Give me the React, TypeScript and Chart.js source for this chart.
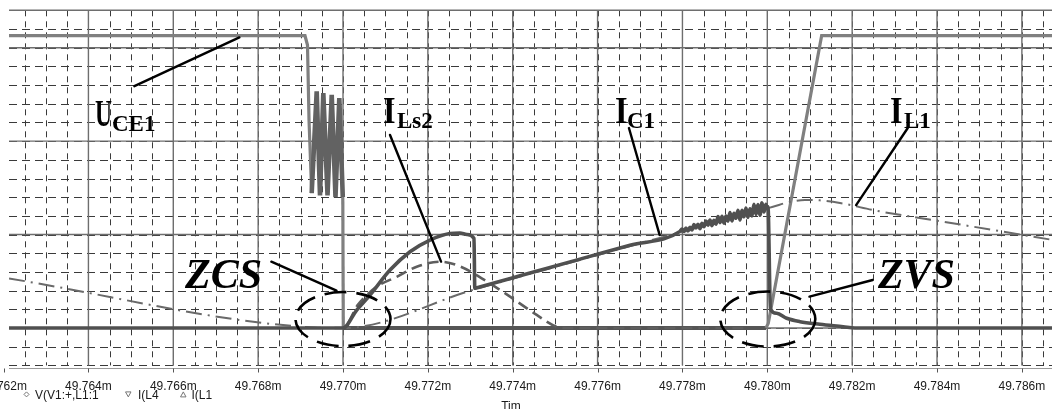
import React, { useEffect, useRef } from "react";
import { Chart, registerables } from "chart.js";

Chart.register(...registerables);

// ---- axis ranges (time in ms, values in grid divisions) ----
const T_MIN = 49.762128;
const T_MAX = 49.78671;
const V_MIN = -2;
const V_MAX = 17;

const xTickValues = [49.762, 49.764, 49.766, 49.768, 49.77, 49.772, 49.774, 49.776, 49.778, 49.78, 49.782, 49.784, 49.786];
const xTickLabels = ["49.762m", "49.764m", "49.766m", "49.768m", "49.770m", "49.772m", "49.774m", "49.776m", "49.778m", "49.780m", "49.782m", "49.784m", "49.786m"];
const yMajorValues = [0, 5, 10, 15];
const legendLabels = ["V(V1:+,L1:1", "I(L4", "I(L1"];
const axisTitle = "Tim";

// ---- U_CE1 (collector-emitter voltage) ----
const uce1T = [49.762, 49.769104, 49.769163, 49.769199, 49.769262, 49.76938, 49.769458, 49.769536, 49.769635, 49.769734, 49.769823, 49.769913, 49.769995, 49.770007, 49.779969, 49.780023, 49.781281, 49.7868];
const uce1V = [15.64, 15.64, 15.14, 11.13, 7.22, 12.66, 7.1, 12.57, 7.1, 12.48, 7.0, 12.3, 7.0, 0, 0, 0.25, 15.64, 15.64];

// ---- I_C1 (collector current) ----
const ic1T = [
  49.762, 49.77, 49.770323, 49.770636, 49.771108, 49.771579, 49.77205, 49.772522, 49.772757, 49.772922, 49.773087, 49.773106,
  49.773158, 49.774171, 49.775585, 49.776764,
  49.777942, 49.777989, 49.778036, 49.778083, 49.778131, 49.778178, 49.778225, 49.778272, 49.778319, 49.778366, 49.778413,
  49.778461, 49.778508, 49.778555, 49.778602, 49.778649, 49.778696, 49.778743, 49.77879, 49.778838, 49.778885, 49.778932,
  49.778979, 49.779026, 49.779073, 49.77912, 49.779167, 49.779215, 49.779262, 49.779309, 49.779356, 49.779403, 49.77945,
  49.779497, 49.779544, 49.779592, 49.779639, 49.779686, 49.779733, 49.77978, 49.779827, 49.779874, 49.779921, 49.779969,
  49.779992, 49.780016, 49.780075, 49.780221, 49.780456, 49.78077, 49.781241, 49.78179, 49.782066, 49.7868,
];
const ic1V = [
  0, 0, 0.963, 1.766, 3.103, 4.082, 4.708, 5.056, 5.083, 5.003, 4.799, 2.124,
  2.157, 2.796, 3.686, 4.43,
  5.17, 5.29, 5.17, 5.35, 5.19, 5.39, 5.25, 5.53, 5.35, 5.55, 5.32,
  5.6, 5.42, 5.73, 5.5, 5.78, 5.48, 5.77, 5.55, 5.96, 5.64, 5.98,
  5.61, 5.99, 5.72, 6.18, 5.73, 6.14, 5.87, 6.3, 5.78, 6.3, 5.95,
  6.42, 5.92, 6.38, 6.0, 6.62, 6.08, 6.6, 6.04, 6.7, 6.21, 6.62,
  6.47, 6.5, 1.0, 0.79, 0.52, 0.34, 0.2, 0.07, 0, 0,
];

// ---- I_Ls2 (resonant inductor current) ----
const ils2T = [49.7698, 49.77, 49.770354, 49.770794, 49.771266, 49.771737, 49.772286, 49.772757, 49.773269, 49.773858, 49.774565, 49.775036, 49.775337, 49.7795];
const ils2V = [0, 0, 1.25, 2.21, 2.74, 3.28, 3.55, 3.3, 2.66, 1.8, 0.7, 0.07, 0, 0];

// ---- I_L1 (main inductor current) ----
const il1T = [49.762129, 49.76934, 49.77, 49.773106, 49.779992, 49.780134, 49.780534, 49.780888, 49.781241, 49.781713, 49.782561, 49.78414, 49.786709];
const il1V = [2.648, 0.027, 0, 2.07, 6.4, 6.49, 6.75, 6.85, 6.83, 6.69, 6.28, 5.69, 4.72];

const zip = (ts: number[], vs: number[]) => ts.map((t, i) => ({ x: t, y: vs[i] }));

const SERIF = '"Liberation Serif", "DejaVu Serif", serif';
const SANS = '"Liberation Sans", Arial, sans-serif';

const scopePlugin = {
  id: "scopeDecor",
  beforeDraw(chart: any) {
    const { ctx, width, height } = chart;
    ctx.save();
    ctx.fillStyle = "#ffffff";
    ctx.fillRect(0, 0, width, height);
    ctx.restore();
  },
  beforeDatasetsDraw(chart: any) {
    const { ctx, chartArea: a, scales } = chart;
    const xs = scales.x;
    const ys = scales.y;
    ctx.save();
    ctx.beginPath();
    ctx.rect(a.left, a.top - 2, a.right - a.left, a.bottom - a.top + 4);
    ctx.clip();
    // minor vertical dashed
    ctx.strokeStyle = "#3a3a3a";
    ctx.lineWidth = 1;
    ctx.setLineDash([6, 5]);
    for (let k = 0; k < 60; k++) {
      const t = 49.7615 + k * 0.0005;
      if (t < T_MIN || t > T_MAX) continue;
      const px = Math.round(xs.getPixelForValue(t)) + 0.5;
      ctx.beginPath();
      ctx.moveTo(px, a.top);
      ctx.lineTo(px, a.bottom);
      ctx.stroke();
    }
    // minor horizontal dashed
    ctx.setLineDash([8, 5]);
    for (let v = V_MIN; v < V_MAX; v++) {
      const py = Math.round(ys.getPixelForValue(v)) + 0.5;
      ctx.beginPath();
      ctx.moveTo(a.left, py);
      ctx.lineTo(a.right, py);
      ctx.stroke();
    }
    // major solid
    ctx.setLineDash([]);
    ctx.strokeStyle = "#6e6e6e";
    ctx.lineWidth = 1.4;
    xTickValues.forEach((t) => {
      const px = xs.getPixelForValue(t);
      ctx.beginPath();
      ctx.moveTo(px, a.top);
      ctx.lineTo(px, a.bottom);
      ctx.stroke();
    });
    [...yMajorValues, V_MAX].forEach((v) => {
      const py = ys.getPixelForValue(v);
      ctx.beginPath();
      ctx.moveTo(a.left, py);
      ctx.lineTo(a.right, py);
      ctx.stroke();
    });
    ctx.restore();
  },
  afterDatasetsDraw(chart: any) {
    const { ctx, scales } = chart;
    const X = (t: number) => scales.x.getPixelForValue(t);
    const Y = (v: number) => scales.y.getPixelForValue(v);
    ctx.save();
    ctx.fillStyle = "#000";
    ctx.strokeStyle = "#000";
    ctx.lineCap = "round";

    const line = (t1: number, v1: number, t2: number, v2: number) => {
      ctx.setLineDash([]);
      ctx.lineWidth = 2.4;
      ctx.beginPath();
      ctx.moveTo(X(t1), Y(v1));
      ctx.lineTo(X(t2), Y(v2));
      ctx.stroke();
    };
    const label = (main: string, sub: string, t: number, v: number, subDx: number, sx: number) => {
      const px = X(t);
      const py = Y(v);
      ctx.save();
      ctx.translate(px, py);
      ctx.scale(sx, 1);
      ctx.font = `bold 38px ${SERIF}`;
      ctx.textBaseline = "alphabetic";
      ctx.fillText(main, 0, 0);
      ctx.restore();
      ctx.font = `bold 23px ${SERIF}`;
      ctx.fillText(sub, px + subDx, py + 5);
    };
    // labels
    label("U", "CE1", 49.764155, 10.8, 17, 0.62);
    line(49.765083, 12.94, 49.767558, 15.55);
    label("I", "Ls2", 49.770943, 10.97, 14, 0.85);
    line(49.771108, 10.33, 49.772311, 3.55);
    label("I", "C1", 49.77641, 10.97, 12, 0.85);
    line(49.776739, 10.7, 49.777462, 4.98);
    label("I", "L1", 49.782891, 10.97, 14, 0.85);
    line(49.783311, 10.7, 49.782093, 6.58);

    ctx.font = `italic bold 42px ${SERIF}`;
    ctx.fillText("ZCS", X(49.766276), Y(2.14));
    line(49.768311, 3.55, 49.769847, 2.0);
    ctx.fillText("ZVS", X(49.782608), Y(2.14));
    line(49.782483, 2.57, 49.780994, 1.68);

    // dashed ellipses
    ctx.lineWidth = 2.6;
    ctx.lineCap = "butt";
    ctx.setLineDash([22, 10]);
    const ell = (t: number, v: number, rx: number, ry: number) => {
      ctx.beginPath();
      ctx.ellipse(X(t), Y(v), rx, ry, 0, 0, Math.PI * 2);
      ctx.stroke();
    };
    ell(49.77, 0.48, 47.5, 27);
    ell(49.780012, 0.48, 47.5, 27.5);
    ctx.restore();
  },
  afterDraw(chart: any) {
    const { ctx, chartArea: a, scales } = chart;
    const X = (t: number) => scales.x.getPixelForValue(t);
    ctx.save();
    // bottom axis line with ticks
    ctx.strokeStyle = "#9a9a9a";
    ctx.lineWidth = 1;
    const by = Math.round(a.bottom) + 3.5;
    ctx.beginPath();
    ctx.moveTo(a.left, by);
    ctx.lineTo(a.right, by);
    ctx.stroke();
    ctx.strokeStyle = "#555";
    xTickValues.forEach((t) => {
      const px = Math.round(X(t)) + 0.5;
      ctx.beginPath();
      ctx.moveTo(px, by);
      ctx.lineTo(px, by + 4);
      ctx.stroke();
    });
    // tick labels
    ctx.fillStyle = "#1a1a1a";
    ctx.font = `12px ${SANS}`;
    ctx.textAlign = "center";
    ctx.textBaseline = "alphabetic";
    xTickValues.forEach((t, i) => ctx.fillText(xTickLabels[i], X(t), a.bottom + 24.5));
    // legend
    ctx.textAlign = "left";
    const ly = a.bottom + 33.5;
    const lx = [35, 138, 191.5];
    legendLabels.forEach((s, i) => ctx.fillText(s, lx[i], ly));
    ctx.strokeStyle = "#777";
    ctx.lineWidth = 1;
    ctx.beginPath();
    ctx.moveTo(26.5, ly - 7);
    ctx.lineTo(29, ly - 4.5);
    ctx.lineTo(26.5, ly - 2);
    ctx.lineTo(24, ly - 4.5);
    ctx.closePath();
    ctx.stroke();
    ctx.beginPath();
    ctx.moveTo(125.5, ly - 7);
    ctx.lineTo(131, ly - 7);
    ctx.lineTo(128.3, ly - 2);
    ctx.closePath();
    ctx.stroke();
    ctx.beginPath();
    ctx.moveTo(183.3, ly - 7);
    ctx.lineTo(186, ly - 2);
    ctx.lineTo(180.5, ly - 2);
    ctx.closePath();
    ctx.stroke();
    // axis title (cut off by the frame)
    ctx.textAlign = "center";
    ctx.fillStyle = "#1a1a1a";
    ctx.fillText(axisTitle, 511, a.bottom + 45);
    ctx.restore();
  },
};

export default function App() {
  const ref = useRef<HTMLCanvasElement | null>(null);
  useEffect(() => {
    if (!ref.current) return;
    const chart = new Chart(ref.current, {
      type: "line",
      data: {
        datasets: [
          {
            label: "I(C1)",
            data: zip(ic1T, ic1V),
            borderColor: "#505050",
            borderWidth: 3.6,
            pointRadius: 0,
            cubicInterpolationMode: "monotone",
          },
          {
            label: "I(L4)",
            data: zip(ils2T, ils2V),
            borderColor: "#5e5e5e",
            borderWidth: 2.6,
            borderDash: [11, 6],
            pointRadius: 0,
            cubicInterpolationMode: "monotone",
          },
          {
            label: "I(L1)",
            data: zip(il1T, il1V),
            borderColor: "#6a6a6a",
            borderWidth: 2,
            borderDash: [16, 6, 2, 6],
            pointRadius: 0,
            cubicInterpolationMode: "monotone",
          },
          {
            label: "V(V1:+,L1:1)",
            data: zip(uce1T, uce1V),
            borderColor: "#808080",
            borderWidth: 3.2,
            pointRadius: 0,
            tension: 0,
            segment: {
              borderWidth: (c: any) => (c.p0DataIndex >= 4 && c.p0DataIndex <= 11 ? 4.6 : c.p0DataIndex === 13 ? 3.8 : 3.2),
              borderColor: (c: any) => (c.p0DataIndex >= 4 && c.p0DataIndex <= 11 ? "#626262" : c.p0DataIndex === 13 ? "#555555" : "#808080"),
            },
          },
        ],
      },
      options: {
        responsive: false,
        animation: false,
        devicePixelRatio: 1,
        layout: { padding: { left: 9, right: 0, top: 10.3, bottom: 43.6 } },
        scales: {
          x: { type: "linear", min: T_MIN, max: T_MAX, display: false },
          y: { type: "linear", min: V_MIN, max: V_MAX, display: false },
        },
        plugins: { legend: { display: false }, tooltip: { enabled: false } },
      },
      plugins: [scopePlugin],
    });
    return () => chart.destroy();
  }, []);
  return (
    <div style={{ position: "fixed", left: 0, top: 0, width: 1052, height: 409, background: "#fff" }}>
      <canvas ref={ref} width={1052} height={409} />
    </div>
  );
}
